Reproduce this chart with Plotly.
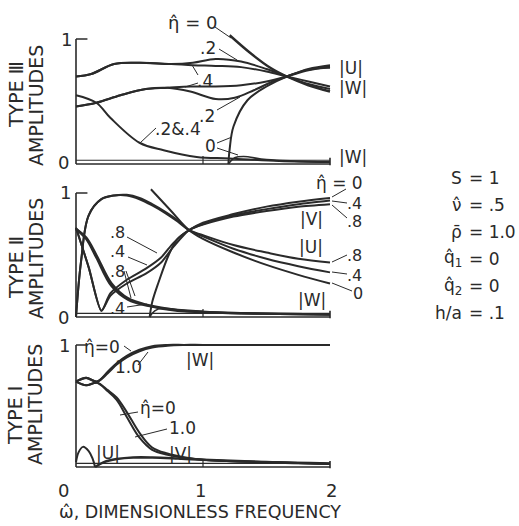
import plotly.graph_objects as go

W, H = 519, 526
INK = "#2a2a2a"
FONT = "DejaVu Sans"

# ---------------- DATA ----------------
# Type III panel
x3_U02 = [0, 0.12, 0.3, 0.5, 0.75, 0.92, 1.1, 1.3, 1.5, 1.66, 1.83, 2.0]
y3_U02 = [0.70, 0.72, 0.80, 0.81, 0.80, 0.81, 0.84, 0.82, 0.76, 0.70, 0.64, 0.60]
x3_U04 = [0, 0.12, 0.3, 0.5, 0.75, 0.92, 1.1, 1.3, 1.5, 1.66, 1.83, 2.0]
y3_U04 = [0.70, 0.72, 0.80, 0.81, 0.80, 0.79, 0.785, 0.775, 0.74, 0.70, 0.66, 0.62]
x3_U0 = [1.21, 1.37, 1.53, 1.66, 1.83, 2.0]
y3_U0 = [1.03, 0.89, 0.77, 0.70, 0.63, 0.58]
x3_W04 = [0, 0.16, 0.35, 0.55, 0.72, 0.9, 1.1, 1.3, 1.5, 1.66, 1.83, 2.0]
y3_W04 = [0.46, 0.49, 0.55, 0.60, 0.61, 0.62, 0.62, 0.63, 0.66, 0.70, 0.75, 0.78]
x3_W02 = [0, 0.16, 0.35, 0.55, 0.72, 0.9, 1.1, 1.25, 1.4, 1.55, 1.66, 1.83, 2.0]
y3_W02 = [0.46, 0.49, 0.55, 0.60, 0.61, 0.58, 0.52, 0.53, 0.59, 0.66, 0.70, 0.76, 0.79]
x3_W0 = [1.2, 1.21, 1.24, 1.35, 1.5, 1.66, 1.83, 2.0]
y3_W0 = [0.0, 0.12, 0.30, 0.51, 0.62, 0.70, 0.755, 0.77]
x3_Wlow = [0, 0.16, 0.27, 0.5, 0.69, 0.95, 1.21, 1.6, 2.0]
y3_Wlow = [0.55, 0.49, 0.37, 0.17, 0.11, 0.056, 0.045, 0.024, 0.016]
x3_Wlow0 = [1.2, 1.25, 1.32, 1.5, 2.0]
y3_Wlow0 = [0.0, 0.05, 0.06, 0.035, 0.015]

# Type II panel
x2_hump = [0, 0.04, 0.1, 0.2, 0.3, 0.4, 0.5, 0.6, 0.7, 0.8, 0.89, 1.0, 1.24, 1.5, 1.75, 2.0]
y2_U08 = [0, 0.45, 0.82, 0.95, 0.98, 0.98, 0.95, 0.90, 0.84, 0.77, 0.70, 0.66, 0.58, 0.52, 0.47, 0.44]
y2_U04 = [0, 0.45, 0.82, 0.95, 0.98, 0.985, 0.96, 0.91, 0.85, 0.78, 0.70, 0.65, 0.55, 0.47, 0.41, 0.36]
x2_U0 = [0.59, 0.74, 0.89, 1.0, 1.24, 1.5, 1.75, 2.0]
y2_U0 = [1.03, 0.865, 0.70, 0.63, 0.52, 0.42, 0.34, 0.27]
x2_Vv = [0, 0.1, 0.2, 0.27, 0.4, 0.55, 0.67, 0.77, 0.89, 1.0, 1.24, 1.5, 1.75, 2.0]
y2_V08 = [0.72, 0.40, 0.05, 0.19, 0.30, 0.39, 0.48, 0.60, 0.70, 0.745, 0.81, 0.855, 0.89, 0.91]
y2_V04 = [0.72, 0.40, 0.05, 0.17, 0.27, 0.35, 0.44, 0.57, 0.70, 0.75, 0.82, 0.87, 0.91, 0.94]
x2_V0 = [0.58, 0.6, 0.65, 0.73, 0.8, 0.89, 1.0, 1.24, 1.5, 1.75, 2.0]
y2_V0 = [0.0, 0.12, 0.28, 0.50, 0.63, 0.70, 0.76, 0.83, 0.89, 0.93, 0.96]
x2_W = [0, 0.08, 0.16, 0.28, 0.41, 0.57, 0.8, 1.0, 1.3, 1.6, 2.0]
y2_W04 = [0.71, 0.64, 0.50, 0.27, 0.15, 0.095, 0.055, 0.04, 0.03, 0.025, 0.02]
y2_W08 = [0.71, 0.63, 0.48, 0.25, 0.14, 0.09, 0.05, 0.04, 0.03, 0.025, 0.02]
x2_W0 = [0.58, 0.62, 0.68, 0.8, 1.0]
y2_W0 = [0.0, 0.05, 0.07, 0.06, 0.045]

# Type I panel
x1_WV = [0, 0.08, 0.165, 0.25, 0.32, 0.4, 0.5, 0.6, 0.72, 0.85, 1.0, 1.5, 2.0]
y1_W0 = [0.70, 0.73, 0.70, 0.78, 0.85, 0.91, 0.96, 0.99, 1.0, 1.0, 1.0, 1.0, 1.0]
y1_W1 = [0.70, 0.73, 0.70, 0.77, 0.84, 0.90, 0.95, 0.98, 0.995, 1.0, 1.0, 1.0, 1.0]
y1_V0 = [0.70, 0.67, 0.69, 0.62, 0.55, 0.41, 0.24, 0.14, 0.10, 0.075, 0.06, 0.04, 0.025]
y1_V1 = [0.70, 0.67, 0.69, 0.63, 0.57, 0.45, 0.28, 0.16, 0.11, 0.08, 0.06, 0.04, 0.025]
x1_Uarch = [0, 0.02, 0.055, 0.1, 0.13, 0.15]
y1_Uarch = [0.04, 0.12, 0.165, 0.13, 0.07, 0.0]
x1_U = [0.15, 0.22, 0.32, 0.45, 0.6, 0.8, 1.0, 1.5, 2.0]
y1_U = [0.0, 0.04, 0.065, 0.078, 0.078, 0.07, 0.06, 0.04, 0.028]

x_ticks = [0, 1, 2]
x_tick_text = ["0", "1", "2"]
params_left = ["S", "ν\u0302", "ρ\u0304", "q\u0302<sub>1</sub>", "q\u0302<sub>2</sub>", "h/a"]
params_right = ["= 1", "= .5", "= 1.0", "= 0", "= 0", "= .1"]

# ---------------- FIGURE ----------------
fig = go.Figure()

def add(xs, ys, ax, width=2.0, smoothing=1.0, shape="spline"):
    fig.add_trace(go.Scatter(x=xs, y=ys, mode="lines",
                             line=dict(color=INK, width=width, shape=shape, smoothing=smoothing),
                             xaxis="x" + ax, yaxis="y" + ax, hoverinfo="skip", showlegend=False))

# Type III (axis suffix "")
add(x3_U02, y3_U02, "")
add(x3_U04, y3_U04, "")
add(x3_U0, y3_U0, "", width=2.4)
add(x3_W04, y3_W04, "")
add(x3_W02, y3_W02, "")
add(x3_W0, y3_W0, "")
add(x3_Wlow, y3_Wlow, "")
add(x3_Wlow0, y3_Wlow0, "", width=1.6)

# Type II (axis "2")
add(x2_hump, y2_U08, "2")
add(x2_hump, y2_U04, "2")
add(x2_U0, y2_U0, "2")
add(x2_Vv, y2_V08, "2", smoothing=0.7)
add(x2_Vv, y2_V04, "2", smoothing=0.7)
add(x2_V0, y2_V0, "2")
add(x2_W, y2_W04, "2", width=2.4)
add(x2_W, y2_W08, "2", width=2.4)
add(x2_W0, y2_W0, "2", width=1.6)

# Type I (axis "3")
add(x1_WV, y1_W0, "3", width=2.2)
add(x1_WV, y1_W1, "3", width=2.2)
add(x1_WV, y1_V0, "3")
add(x1_WV, y1_V1, "3")
add(x1_Uarch, y1_Uarch, "3")
add(x1_U, y1_U, "3", width=2.6)

# axes: pixel mapping of each panel (y=0 px, y=1 px)
panels = {"": (164, 39), "2": (317, 193), "3": (467, 345)}
YLO, YHI = -0.08, 1.12
X0PX, X2PX = 76, 330
unit_x = (X2PX - X0PX) / 2
XLO, XHI = -0.1, 2.1
xdom = [(X0PX + XLO * unit_x) / W, (X0PX + XHI * unit_x) / W]

layout = dict(width=W, height=H, margin=dict(l=0, r=0, t=0, b=0),
              paper_bgcolor="white", plot_bgcolor="white", showlegend=False,
              font=dict(family=FONT, color=INK))
shapes = []
for ax, (p0, p1) in panels.items():
    u = p0 - p1
    top = p1 - (YHI - 1) * u
    bot = p0 - YLO * u
    layout["xaxis" + ax] = dict(domain=xdom, range=[XLO, XHI], visible=False,
                                anchor="y" + ax, fixedrange=True)
    layout["yaxis" + ax] = dict(domain=[1 - bot / H, 1 - top / H], range=[YLO, YHI],
                                visible=False, anchor="x" + ax, fixedrange=True)
    xr, yr = "x" + ax, "y" + ax
    def ln(x0, y0, x1, y1, w=1.6):
        shapes.append(dict(type="line", xref=xr, yref=yr, x0=x0, y0=y0, x1=x1, y1=y1,
                           line=dict(color=INK, width=w)))
    ln(0, 0, 0, 1)
    ln(0, 1, 0.09, 1)
    ln(0, 0, 2, 0)
    ln(0, 0.03, 2, 0.03, 1.2)
    ln(1, 0, 1, 0.065, 1.2)
    ln(2, -0.01, 2, 0.05, 1.6)

anns = []
def px(x): return x / W
def py(y): return 1 - y / H

def lab(t, x, y, size=16, xa="center", ya="middle", angle=0):
    anns.append(dict(text=t, x=px(x), y=py(y), xref="paper", yref="paper", showarrow=False,
                     xanchor=xa, yanchor=ya, textangle=angle,
                     font=dict(size=size, family=FONT, color=INK)))

def lead(x0, y0, x1, y1, w=1.0):
    shapes.append(dict(type="line", xref="paper", yref="paper", x0=px(x0), y0=py(y0),
                       x1=px(x1), y1=py(y1), line=dict(color=INK, width=w)))

# y-axis titles
lab("TYPE Ⅲ", 16, 95, 19, angle=-90)
lab("AMPLITUDES", 36, 105, 19, angle=-90)
lab("TYPE Ⅱ", 16, 268, 19, angle=-90)
lab("AMPLITUDES", 36, 258, 19, angle=-90)
lab("TYPE I", 15, 416, 19, angle=-90)
lab("AMPLITUDES", 35, 405, 19, angle=-90)

# y tick labels
lab("1", 66, 39, 18)
lab("0", 63, 163, 18)
lab("1", 65, 193, 18)
lab("0", 63, 317, 18)
lab("1", 64, 345, 18)

# x tick labels
xtick_px = [63, 200, 331]
for t, xp in zip(x_tick_text, xtick_px):
    lab(t, xp, 490, 18)
lab("ω\u0302, DIMENSIONLESS FREQUENCY", 57, 512, 17.5, xa="left")

# Type III labels
lab("η\u0302 = 0", 192, 22, 18)
lead(215, 27, 231, 38)
lab(".2", 208, 48, 17)
lead(219, 49, 237, 60)
lab(".4", 205, 81, 17)
lead(198, 75, 192, 65)
lead(198, 83, 185, 87)
lab(".2", 207, 116, 17)
lead(217, 110, 240, 97)
lab(".2&.4", 178, 129, 17)
lead(156, 128, 140, 143)
lab("0", 210, 146, 17)
lead(217, 143, 232, 137)
lead(217, 148, 238, 155)
lab("|U|", 337, 68, 17, xa="left")
lab("|W|", 337, 88, 17, xa="left")
lab("|W|", 337, 157, 17, xa="left")

# Type II labels
lab("η\u0302 = 0", 314, 183, 17, xa="left")
lead(346, 189, 332, 197)
lab(".4", 354, 203, 16)
lead(347, 203, 332, 201)
lab(".8", 354, 222, 16)
lead(347, 218, 332, 205)
lab("|V|", 311, 219, 17)
lab("|U|", 311, 247, 17)
lab(".8", 354, 256, 16)
lead(347, 255, 332, 262)
lab(".4", 354, 275, 16)
lead(347, 274, 332, 272)
lab("0", 358, 293, 16)
lead(352, 291, 332, 283)
lab("|W|", 312, 300, 17)
lab(".8", 117, 232, 16)
lead(127, 237, 157, 253)
lab(".4", 117, 251, 16)
lead(128, 257, 147, 265)
lab(".8", 117, 271, 16)
lead(124, 271, 131, 298)
lead(126, 271, 135, 296)
lab(".4", 117, 308, 16)
lead(127, 307, 147, 304)

# Type I labels
lab("η\u0302=0", 102, 347, 17)
lead(124, 346, 131, 351)
lab("1.0", 128, 367, 17)
lead(138, 365, 148, 352)
lab("|W|", 200, 360, 17)
lab("η\u0302=0", 158, 408, 17)
lead(138, 412, 120, 415)
lab("1.0", 182, 428, 17)
lead(167, 429, 135, 437)
lab("|U|", 108, 453, 17)
lab("|V|", 180, 454, 17)

# parameters
param_y = [178, 205, 232, 259, 286, 313]
for l, r, yy in zip(params_left, params_right, param_y):
    lab(l, 464, yy, 17, xa="right")
    lab(r, 467, yy, 17, xa="left")

layout["shapes"] = shapes
layout["annotations"] = anns
fig.update_layout(**layout)
fig.write_html("out.html")
